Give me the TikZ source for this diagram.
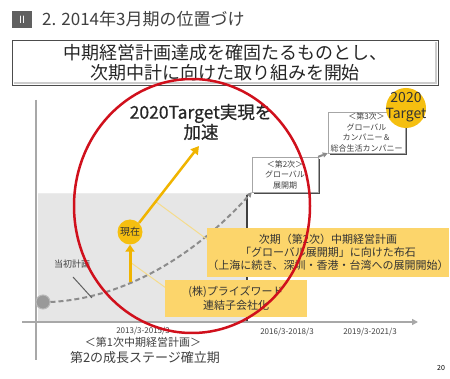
\documentclass[tikz,border=0pt]{standalone}
\usepackage{fontspec}
\setmainfont{Noto Sans CJK JP}
\usetikzlibrary{arrows.meta}
\definecolor{txt}{HTML}{404040}
\definecolor{arrowy}{HTML}{F0B400}
\definecolor{circy}{HTML}{F5BF10}
\definecolor{boxy}{HTML}{FCD56B}
\definecolor{cally}{HTML}{F5DC8C}
\definecolor{redc}{HTML}{D0101C}
\definecolor{axisg}{HTML}{A8A8A8}
\definecolor{regiong}{HTML}{E6E6E6}
\tikzset{
  stagebox/.style={draw=gray!70, fill=white, inner sep=0pt, text=txt, font=\fontsize{8}{10.5}\selectfont, align=center},
  ybox/.style={fill=boxy, inner sep=0pt, text=black!80, align=center},
  lbl/.style={text=txt, inner sep=0pt},
  dashg/.style={draw=gray!90, line width=2pt, dash pattern=on 5pt off 3pt},
}
\begin{document}
\begin{tikzpicture}[x=1pt,y=-1pt]
\useasboundingbox (0,0) rectangle (450,379);
\fill[white] (0,0) rectangle (450,379);
% title
\node[fill=gray!75!black, text=white, minimum width=20pt, minimum height=17pt, inner sep=0pt, font=\fontsize{10}{10}\selectfont] (num) at (22,19.5) {Ⅱ};
\node[lbl, anchor=west, font=\fontsize{17}{17}\selectfont] (title) at (42,19.5) {2. 2014年3月期の位置づけ};
% headline box
\draw[gray!60!black, line width=0.8pt] (12,40) rectangle (438,85);
\draw[gray!40, line width=1.2pt] (14,83) -- (436,83) -- (436,42);
\node[lbl, text=black!85, align=center, font=\fontsize{18}{19.5}\selectfont] (head) at (225,62.5) {中期経営計画達成を確固たるものとし、\\次期中計に向けた取り組みを開始};
% gray region
\fill[regiong] (38,193) rectangle (247,322);
\draw[white!85!gray, line width=1pt] (38,193.5) -- (246,193.5);
\draw[gray!50!black, line width=1.5pt] (247,195) -- (247,322);
% axes
\draw[axisg, line width=1.5pt] (36,100) -- (36,360);
\draw[axisg, line width=1.5pt, -{Triangle[length=6pt,width=6pt]}] (22,322) coordinate (ax0) -- (418,322) coordinate (ax1);
% stage boxes
\fill[gray!60!black] (254,159) rectangle (320,194);
\node[stagebox, minimum width=66pt, minimum height=35pt] (s2) at (285,174.5) {＜第2次＞\\グローバル\\展開期};
\fill[gray!60!black] (330,114) rectangle (407,155);
\node[stagebox, minimum width=77pt, minimum height=41pt] (s3) at (366.5,132.5) {＜第3次＞\\グローバル\\カンパニー＆\\総合生活カンパニー};
% 2020 target circle
\node[circle, fill=circy, minimum size=40pt, inner sep=0pt] (tgt) at (406,108) {};
\node[lbl, text=black!80, align=center, font=\fontsize{14}{16}\selectfont] (tgtt) at (406,107) {2020\\Target};
% start dot and dashed curve
\node[circle, fill=gray!80, draw=gray!55, line width=1pt, minimum size=14pt, inner sep=0pt] (dot) at (43,302) {};
\draw[dashg, -{Triangle[length=5pt,width=5pt]}] (dot.east) .. controls (130,298) and (200,250) .. (s2.south west);
\draw[dashg, -{Triangle[length=5pt,width=5pt]}] (s2.north east) -- (s3.south west);
% initial plan label
\node[lbl, font=\fontsize{9}{9}\selectfont] (init) at (72,264) {当初計画};
\coordinate (initend) at (92,298);
\draw[gray!75!black, line width=1pt] (73,277) -- (initend);
% callout lines
\coordinate (c1a) at (155,201);
\coordinate (c2a) at (130,262);
\draw[cally, line width=1pt] (c1a) -- (208,240);
\draw[cally, line width=1pt] (c2a) -- (166,288);
% yellow boxes
\node[ybox, minimum width=242pt, minimum height=49pt, font=\fontsize{11}{13}\selectfont] (b2) at (328,252.5) {次期（第2次）中期経営計画\\「グローバル展開期」に向けた布石\\（上海に続き、深圳・香港・台湾への展開開始）};
\node[ybox, minimum width=142pt, minimum height=37pt, font=\fontsize{11}{14}\selectfont] (b1) at (236,298.5) {(株)プライズワード\\連結子会社化};
% now circle and arrows
\node[circle, fill=circy, minimum size=25pt, inner sep=0pt, text=black!80, font=\fontsize{10}{10}\selectfont] (now) at (130,232) {現在};
\coordinate (up0) at (130,282);
\draw[arrowy, line width=3pt, -{Triangle[length=7pt,width=9pt]}] (up0) -- (now.south);
\coordinate (aimend) at (199,146);
\draw[arrowy, line width=2.5pt, -{Triangle[length=8pt,width=9pt]}] (now.north east) -- (aimend);
% accelerate text
\node[lbl, text=black!85, align=center, font=\fontsize{17.5}{20}\selectfont\addfontfeature{FakeBold=0.6}] (acc) at (201,122) {2020Target実現を\\加速};
% axis labels
\node[lbl, font=\fontsize{8}{8}\selectfont] (l1) at (143,331) {2013/3-2015/3};
\node[lbl, font=\fontsize{8}{8}\selectfont] (l2) at (287,332) {2016/3-2018/3};
\node[lbl, font=\fontsize{8}{8}\selectfont] (l3) at (370,332) {2019/3-2021/3};
\node[lbl, font=\fontsize{11}{11}\selectfont] (p1a) at (143,342.5) {＜第1次中期経営計画＞};
\node[lbl, font=\fontsize{13}{13}\selectfont] (p1b) at (145,357.5) {第2の成長ステージ確立期};
% red ellipse
\draw[redc, line width=2.5pt] (192,206) ellipse [x radius=118, y radius=127];
% page number
\node[lbl, text=black, font=\fontsize{7}{7}\selectfont] (pg) at (441,368) {20};
\end{tikzpicture}
\end{document}
